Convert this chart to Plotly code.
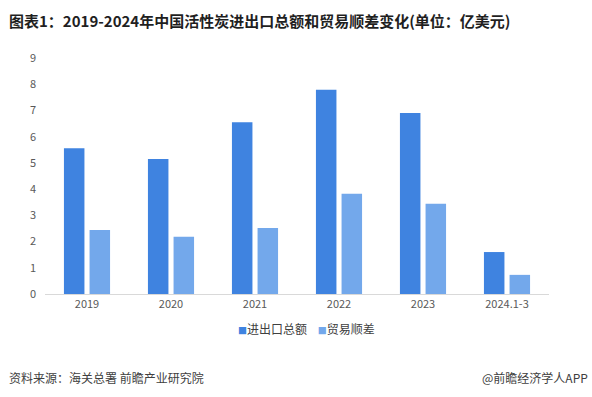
import plotly.graph_objects as go

categories = ["2019", "2020", "2021", "2022", "2023", "2024.1-3"]
total_trade = [5.56, 5.15, 6.55, 7.79, 6.90, 1.60]
trade_surplus = [2.44, 2.18, 2.52, 3.82, 3.44, 0.73]
series_names = ["进出口总额", "贸易顺差"]
series_colors = ["#3F83E0", "#73A8EB"]
y_ticks = [0, 1, 2, 3, 4, 5, 6, 7, 8, 9]

FONT = "Noto Sans CJK SC"
W, H = 592, 397
L, R, T, B = 45, 43, 58, 103
pw, ph = W - L - R, H - T - B

def px(x):
    return (x - L) / pw

def py(y):
    return (H - B - y) / ph

fig = go.Figure()
fig.add_trace(go.Bar(x=categories, y=total_trade, name=series_names[0],
                     marker=dict(color=series_colors[0], line=dict(width=0))))
fig.add_trace(go.Bar(x=categories, y=trade_surplus, name=series_names[1],
                     marker=dict(color=series_colors[1], line=dict(width=0))))

fig.update_layout(
    width=W, height=H,
    margin=dict(l=L, r=R, t=T, b=B),
    paper_bgcolor="white", plot_bgcolor="white",
    barmode="group", bargap=0.39, bargroupgap=0.2,
    font=dict(family=FONT, color="#595959"),
    showlegend=False,
    xaxis=dict(showgrid=False, showline=True, linecolor="#D9D9D9", linewidth=1,
               ticks="", tickfont=dict(size=11, color="#595959", family=FONT),
               zeroline=False),
    yaxis=dict(range=[0, 9], tickvals=y_ticks, showgrid=False, showline=False,
               zeroline=False, ticks="", ticklabelstandoff=8,
               tickfont=dict(size=11, color="#595959", family=FONT)),
)

# legend drawn as text with coloured squares
legend_html = "&nbsp;&nbsp;&nbsp;&nbsp;".join(
    f"<span style='color:{c};font-size:9px'>■</span>{n}" for n, c in zip(series_names, series_colors)
)
fig.add_annotation(text=legend_html, xref="paper", yref="paper", x=px(306), y=py(328),
                   xanchor="center", yanchor="middle", showarrow=False,
                   font=dict(size=12, color="#404040", family=FONT))

fig.add_annotation(text="<b>图表1：2019-2024年中国活性炭进出口总额和贸易顺差变化(单位：亿美元)</b>",
                   xref="paper", yref="paper", x=px(7), y=py(20), xanchor="left", yanchor="middle",
                   showarrow=False, font=dict(size=15, color="#1F1F1F", family=FONT))
fig.add_annotation(text="资料来源：海关总署 前瞻产业研究院",
                   xref="paper", yref="paper", x=px(7), y=py(377), xanchor="left", yanchor="middle",
                   showarrow=False, font=dict(size=12, color="#404040", family=FONT))
fig.add_annotation(text="@前瞻经济学人APP",
                   xref="paper", yref="paper", x=px(590), y=py(377), xanchor="right", yanchor="middle",
                   showarrow=False, font=dict(size=12, color="#404040", family=FONT))

fig.write_html("out.html", config={"displayModeBar": False},
               post_script="document.body.style.margin='0';document.body.style.overflow='hidden';")
